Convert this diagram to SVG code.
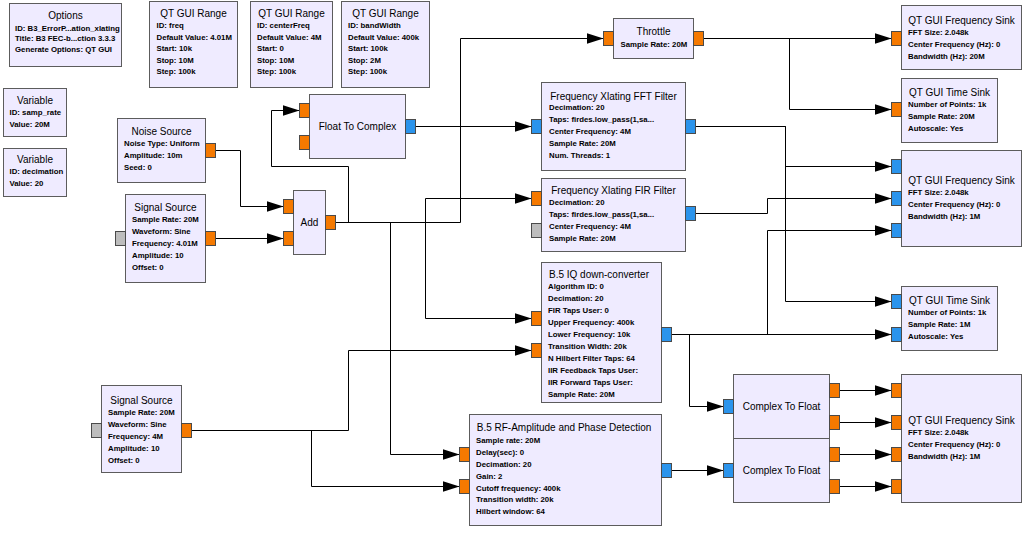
<svg xmlns="http://www.w3.org/2000/svg" width="1025" height="533" viewBox="0 0 1025 533">
  <style>
    .box { fill: #EFEBFF; stroke: #5C5C5C; stroke-width: 1; }
    .t { font-family: "Liberation Sans", Arial, sans-serif; font-size: 10px; fill: #000; }
    .c { text-anchor: middle; }
    .p { font-family: "Liberation Sans", Arial, sans-serif; font-size: 7.8px; font-weight: bold; fill: #000; }
    .pf { fill: #F57900; stroke: #4A4A4A; stroke-width: 1; }
    .pc { fill: #2B94EC; stroke: #4A4A4A; stroke-width: 1; }
    .pm { fill: #BDBDBD; stroke: #4A4A4A; stroke-width: 1; }
    .wire { fill: none; stroke: #000; stroke-width: 1; marker-end: url(#arr); }
  </style>
  <defs>
    <marker id="arr" viewBox="0 0 17 11" refX="17" refY="5.5" markerWidth="17" markerHeight="11" markerUnits="userSpaceOnUse" orient="auto">
      <path d="M0,0 L17,5.5 L0,11 Z" fill="#000"/>
    </marker>
  </defs>

  <rect width="1025" height="533" fill="#FFFFFF"/>

  <!-- connections -->
  <g id="connections">
    <path class="wire" d="M215.5,150.5 H240.5 V206.5 H283.5"/>
    <path class="wire" d="M215.5,238.5 H283.5"/>
    <path class="wire" d="M335.5,222.5 H348.5 V166.5 H271.5 V110.5 H299.5"/>
    <path class="wire" d="M335.5,222.5 H460.5 V38.5 H603.5"/>
    <path class="wire" d="M335.5,222.5 H425.5 V198.5 H531.5"/>
    <path class="wire" d="M335.5,222.5 H425.5 V318.5 H531.5"/>
    <path class="wire" d="M335.5,222.5 H390.5 V454.5 H459.5"/>
    <path class="wire" d="M191.5,430.5 H348.5 V350.5 H531.5"/>
    <path class="wire" d="M191.5,430.5 H311.5 V486.5 H459.5"/>
    <path class="wire" d="M415.5,126.5 H531.5"/>
    <path class="wire" d="M703.5,38.5 H891.5"/>
    <path class="wire" d="M703.5,38.5 H789.5 V109.5 H891.5"/>
    <path class="wire" d="M695.5,126.5 H785.5 V166.5 H891.5"/>
    <path class="wire" d="M695.5,126.5 H785.5 V301.5 H891.5"/>
    <path class="wire" d="M695.5,213.5 H767.5 V198.5 H891.5"/>
    <path class="wire" d="M671.5,334.5 H767.5 V230.5 H891.5"/>
    <path class="wire" d="M671.5,334.5 H891.5"/>
    <path class="wire" d="M671.5,334.5 H689.5 V406.5 H723.5"/>
    <path class="wire" d="M671.5,470.5 H723.5"/>
    <path class="wire" d="M839.5,390.5 H891.5"/>
    <path class="wire" d="M839.5,422.5 H891.5"/>
    <path class="wire" d="M839.5,454.5 H891.5"/>
    <path class="wire" d="M839.5,486.5 H891.5"/>
  </g>

  <!-- variables and options -->
  <g id="options">
    <rect class="box" x="9.5" y="3.5" width="112" height="63"/>
    <text class="t c" x="65.5" y="19">Options</text>
    <text class="p" x="15" y="30.5">ID: B3_ErrorP...ation_xlating</text>
    <text class="p" x="15" y="41">Title: B3 FEC-b...ction 3.3.3</text>
    <text class="p" x="15" y="51.5">Generate Options: QT GUI</text>
  </g>
  <g id="range_freq">
    <rect class="box" x="149.5" y="1.5" width="88" height="86"/>
    <text class="t c" x="193.5" y="17">QT GUI Range</text>
    <text class="p" x="156.5" y="28">ID: freq</text>
    <text class="p" x="156.5" y="39.5">Default Value: 4.01M</text>
    <text class="p" x="156.5" y="51">Start: 10k</text>
    <text class="p" x="156.5" y="62.5">Stop: 10M</text>
    <text class="p" x="156.5" y="74">Step: 100k</text>
  </g>
  <g id="range_centerFreq">
    <rect class="box" x="250.5" y="1.5" width="82" height="86"/>
    <text class="t c" x="291.5" y="17">QT GUI Range</text>
    <text class="p" x="257" y="28">ID: centerFreq</text>
    <text class="p" x="257" y="39.5">Default Value: 4M</text>
    <text class="p" x="257" y="51">Start: 0</text>
    <text class="p" x="257" y="62.5">Stop: 10M</text>
    <text class="p" x="257" y="74">Step: 100k</text>
  </g>
  <g id="range_bandWidth">
    <rect class="box" x="341.5" y="1.5" width="88" height="86"/>
    <text class="t c" x="385.5" y="17">QT GUI Range</text>
    <text class="p" x="348" y="28">ID: bandWidth</text>
    <text class="p" x="348" y="39.5">Default Value: 400k</text>
    <text class="p" x="348" y="51">Start: 100k</text>
    <text class="p" x="348" y="62.5">Stop: 2M</text>
    <text class="p" x="348" y="74">Step: 100k</text>
  </g>
  <g id="var_samp_rate">
    <rect class="box" x="3.5" y="88.5" width="63" height="48"/>
    <text class="t c" x="35" y="103.5">Variable</text>
    <text class="p" x="9.5" y="115">ID: samp_rate</text>
    <text class="p" x="9.5" y="126.5">Value: 20M</text>
  </g>
  <g id="var_decimation">
    <rect class="box" x="3.5" y="148.5" width="63" height="48"/>
    <text class="t c" x="35" y="163">Variable</text>
    <text class="p" x="9.5" y="174">ID: decimation</text>
    <text class="p" x="9.5" y="185.5">Value: 20</text>
  </g>

  <!-- sources -->
  <g id="noise_source">
    <rect class="box" x="117.5" y="118.5" width="88" height="64"/>
    <text class="t c" x="161.5" y="134.5">Noise Source</text>
    <text class="p" x="124" y="146.3">Noise Type: Uniform</text>
    <text class="p" x="124" y="158.3">Amplitude: 10m</text>
    <text class="p" x="124" y="170.3">Seed: 0</text>
    <rect class="pf" x="205.5" y="143.5" width="10" height="14"/>
  </g>
  <g id="signal_source_0">
    <rect class="box" x="125.5" y="194.5" width="80" height="88"/>
    <text class="t c" x="165.5" y="211">Signal Source</text>
    <text class="p" x="132" y="222.3">Sample Rate: 20M</text>
    <text class="p" x="132" y="234.3">Waveform: Sine</text>
    <text class="p" x="132" y="246.3">Frequency: 4.01M</text>
    <text class="p" x="132" y="258.3">Amplitude: 10</text>
    <text class="p" x="132" y="270.3">Offset: 0</text>
    <rect class="pm" x="115.5" y="231.5" width="10" height="14"/>
    <rect class="pf" x="205.5" y="231.5" width="10" height="14"/>
  </g>
  <g id="signal_source_1">
    <rect class="box" x="101.5" y="385.5" width="80" height="87"/>
    <text class="t c" x="141.5" y="403.5">Signal Source</text>
    <text class="p" x="108" y="414.8">Sample Rate: 20M</text>
    <text class="p" x="108" y="426.8">Waveform: Sine</text>
    <text class="p" x="108" y="438.8">Frequency: 4M</text>
    <text class="p" x="108" y="450.8">Amplitude: 10</text>
    <text class="p" x="108" y="462.8">Offset: 0</text>
    <rect class="pm" x="91.5" y="423.5" width="10" height="14"/>
    <rect class="pf" x="181.5" y="423.5" width="10" height="14"/>
  </g>
  <g id="add">
    <rect class="box" x="293.5" y="190.5" width="32" height="64"/>
    <text class="t c" x="309.5" y="226">Add</text>
    <rect class="pf" x="283.5" y="199.5" width="10" height="14"/>
    <rect class="pf" x="283.5" y="231.5" width="10" height="14"/>
    <rect class="pf" x="325.5" y="215.5" width="10" height="14"/>
  </g>
  <g id="float_to_complex">
    <rect class="box" x="309.5" y="94.5" width="96" height="64"/>
    <text class="t c" x="357.5" y="130">Float To Complex</text>
    <rect class="pf" x="299.5" y="103.5" width="10" height="14"/>
    <rect class="pf" x="299.5" y="135.5" width="10" height="14"/>
    <rect class="pc" x="405.5" y="119.5" width="10" height="14"/>
  </g>

  <!-- processing -->
  <g id="throttle">
    <rect class="box" x="613.5" y="18.5" width="80" height="40"/>
    <text class="t c" x="653.5" y="35.2">Throttle</text>
    <text class="p" x="620.5" y="47.1">Sample Rate: 20M</text>
    <rect class="pf" x="603.5" y="31.5" width="10" height="14"/>
    <rect class="pf" x="693.5" y="31.5" width="10" height="14"/>
  </g>
  <g id="xlating_fft">
    <rect class="box" x="541.5" y="82.5" width="144" height="88"/>
    <text class="t c" x="613.5" y="99.5">Frequency Xlating FFT Filter</text>
    <text class="p" x="549" y="110.3">Decimation: 20</text>
    <text class="p" x="549" y="122.3">Taps: firdes.low_pass(1,sa...</text>
    <text class="p" x="549" y="134.3">Center Frequency: 4M</text>
    <text class="p" x="549" y="146.3">Sample Rate: 20M</text>
    <text class="p" x="549" y="158.3">Num. Threads: 1</text>
    <rect class="pc" x="531.5" y="119.5" width="10" height="14"/>
    <rect class="pc" x="685.5" y="119.5" width="10" height="14"/>
  </g>
  <g id="xlating_fir">
    <rect class="box" x="541.5" y="178.5" width="144" height="73"/>
    <text class="t c" x="613.5" y="193.5">Frequency Xlating FIR Filter</text>
    <text class="p" x="549" y="204.8">Decimation: 20</text>
    <text class="p" x="549" y="216.8">Taps: firdes.low_pass(1,sa...</text>
    <text class="p" x="549" y="228.8">Center Frequency: 4M</text>
    <text class="p" x="549" y="240.8">Sample Rate: 20M</text>
    <rect class="pf" x="531.5" y="191.5" width="10" height="14"/>
    <rect class="pm" x="531.5" y="223.5" width="10" height="14"/>
    <rect class="pc" x="685.5" y="206.5" width="10" height="14"/>
  </g>
  <g id="iq_downconverter">
    <rect class="box" x="541.5" y="262.5" width="120" height="140"/>
    <text class="t c" x="599" y="278">B.5 IQ down-converter</text>
    <text class="p" x="548" y="289.3">Algorithm ID: 0</text>
    <text class="p" x="548" y="301.3">Decimation: 20</text>
    <text class="p" x="548" y="313.3">FIR Taps User: 0</text>
    <text class="p" x="548" y="325.3">Upper Frequency: 400k</text>
    <text class="p" x="548" y="337.3">Lower Frequency: 10k</text>
    <text class="p" x="548" y="349.3">Transition Width: 20k</text>
    <text class="p" x="548" y="361.3">N Hilbert Filter Taps: 64</text>
    <text class="p" x="548" y="373.3">IIR Feedback Taps User:</text>
    <text class="p" x="548" y="385.3">IIR Forward Taps User:</text>
    <text class="p" x="548" y="397.3">Sample Rate: 20M</text>
    <rect class="pf" x="531.5" y="311.5" width="10" height="14"/>
    <rect class="pf" x="531.5" y="343.5" width="10" height="14"/>
    <rect class="pc" x="661.5" y="327.5" width="10" height="14"/>
  </g>
  <g id="rf_amp_phase">
    <rect class="box" x="469.5" y="414.5" width="192" height="111"/>
    <text class="t c" x="564" y="430.8">B.5 RF-Amplitude and Phase Detection</text>
    <text class="p" x="476" y="443.3">Sample rate: 20M</text>
    <text class="p" x="476" y="455.1">Delay(sec): 0</text>
    <text class="p" x="476" y="466.9">Decimation: 20</text>
    <text class="p" x="476" y="478.7">Gain: 2</text>
    <text class="p" x="476" y="490.5">Cutoff frequency: 400k</text>
    <text class="p" x="476" y="502.3">Transition width: 20k</text>
    <text class="p" x="476" y="514.1">Hilbert window: 64</text>
    <rect class="pf" x="459.5" y="447.5" width="10" height="14"/>
    <rect class="pf" x="459.5" y="479.5" width="10" height="14"/>
    <rect class="pc" x="661.5" y="463.5" width="10" height="14"/>
  </g>
  <g id="complex_to_float_0">
    <rect class="box" x="733.5" y="374.5" width="96" height="64"/>
    <text class="t c" x="781.5" y="410">Complex To Float</text>
    <rect class="pc" x="723.5" y="399.5" width="10" height="14"/>
    <rect class="pf" x="829.5" y="383.5" width="10" height="14"/>
    <rect class="pf" x="829.5" y="415.5" width="10" height="14"/>
  </g>
  <g id="complex_to_float_1">
    <rect class="box" x="733.5" y="438.5" width="96" height="64"/>
    <text class="t c" x="781.5" y="474">Complex To Float</text>
    <rect class="pc" x="723.5" y="463.5" width="10" height="14"/>
    <rect class="pf" x="829.5" y="447.5" width="10" height="14"/>
    <rect class="pf" x="829.5" y="479.5" width="10" height="14"/>
  </g>

  <!-- sinks -->
  <g id="freq_sink_0">
    <rect class="box" x="901.5" y="5.5" width="120" height="64"/>
    <text class="t c" x="961.5" y="23.5">QT GUI Frequency Sink</text>
    <text class="p" x="908" y="34.8">FFT Size: 2.048k</text>
    <text class="p" x="908" y="46.8">Center Frequency (Hz): 0</text>
    <text class="p" x="908" y="58.8">Bandwidth (Hz): 20M</text>
    <rect class="pf" x="891.5" y="31.5" width="10" height="14"/>
  </g>
  <g id="time_sink_0">
    <rect class="box" x="901.5" y="78.5" width="96" height="64"/>
    <text class="t c" x="949.5" y="95.5">QT GUI Time Sink</text>
    <text class="p" x="908" y="106.8">Number of Points: 1k</text>
    <text class="p" x="908" y="118.8">Sample Rate: 20M</text>
    <text class="p" x="908" y="130.8">Autoscale: Yes</text>
    <rect class="pf" x="891.5" y="102.5" width="10" height="14"/>
  </g>
  <g id="freq_sink_1">
    <rect class="box" x="901.5" y="150.5" width="120" height="96"/>
    <text class="t c" x="961.5" y="183.5">QT GUI Frequency Sink</text>
    <text class="p" x="908" y="194.8">FFT Size: 2.048k</text>
    <text class="p" x="908" y="206.8">Center Frequency (Hz): 0</text>
    <text class="p" x="908" y="218.8">Bandwidth (Hz): 1M</text>
    <rect class="pc" x="891.5" y="159.5" width="10" height="14"/>
    <rect class="pc" x="891.5" y="191.5" width="10" height="14"/>
    <rect class="pc" x="891.5" y="223.5" width="10" height="14"/>
  </g>
  <g id="time_sink_1">
    <rect class="box" x="901.5" y="286.5" width="96" height="64"/>
    <text class="t c" x="949.5" y="303.5">QT GUI Time Sink</text>
    <text class="p" x="908" y="314.8">Number of Points: 1k</text>
    <text class="p" x="908" y="326.8">Sample Rate: 1M</text>
    <text class="p" x="908" y="338.8">Autoscale: Yes</text>
    <rect class="pc" x="891.5" y="294.5" width="10" height="14"/>
    <rect class="pc" x="891.5" y="327.5" width="10" height="14"/>
  </g>
  <g id="freq_sink_2">
    <rect class="box" x="901.5" y="374.5" width="120" height="128"/>
    <text class="t c" x="961.5" y="423.5">QT GUI Frequency Sink</text>
    <text class="p" x="908" y="434.8">FFT Size: 2.048k</text>
    <text class="p" x="908" y="446.8">Center Frequency (Hz): 0</text>
    <text class="p" x="908" y="458.8">Bandwidth (Hz): 1M</text>
    <rect class="pf" x="891.5" y="383.5" width="10" height="14"/>
    <rect class="pf" x="891.5" y="415.5" width="10" height="14"/>
    <rect class="pf" x="891.5" y="447.5" width="10" height="14"/>
    <rect class="pf" x="891.5" y="479.5" width="10" height="14"/>
  </g>
</svg>
